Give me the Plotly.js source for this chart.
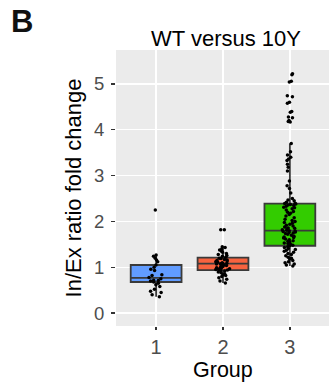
<!DOCTYPE html>
<html><head><meta charset="utf-8">
<script src="https://cdn.plot.ly/plotly-3.0.1.min.js"></script>
<style>html,body{margin:0;padding:0;background:#fff}#chart{width:329px;height:388px}</style>
</head><body><div id="chart"></div>
<script>
const groups = [1, 2, 3];
const tickLabels = ["1", "2", "3"];
const boxColors = ["#619CFF", "#F8633F", "#33CC00"];
const q1 = [0.68, 0.94, 1.47];
const median = [0.77, 1.08, 1.80];
const q3 = [1.05, 1.21, 2.39];
const lowerWhisker = [0.36, 0.66, 1.03];
const upperWhisker = [1.28, 1.45, 3.70];

const group1 = [2.25, 1.27, 1.24, 1.20, 1.16, 1.12, 1.05, 1.00, 0.96, 0.93, 0.84, 0.82, 0.78, 0.75, 0.72, 0.71, 0.70, 0.68, 0.65, 0.62, 0.58, 0.52, 0.48, 0.45, 0.40, 0.36];
const group2 = [1.82, 1.82, 1.45, 1.43, 1.40, 1.38, 1.35, 1.33, 1.30, 1.28, 1.26, 1.24, 1.22, 1.20, 1.19, 1.17, 1.16, 1.15, 1.14, 1.12, 1.11, 1.10, 1.09, 1.08, 1.08, 1.07, 1.06, 1.05, 1.04, 1.02, 1.00, 0.99, 0.98, 0.97, 0.96, 0.95, 0.94, 0.93, 0.92, 0.90, 0.88, 0.86, 0.84, 0.82, 0.80, 0.77, 0.74, 0.70, 0.66];
const group3 = [5.22, 5.20, 5.06, 5.04, 4.74, 4.72, 4.60, 4.58, 4.40, 4.38, 4.28, 4.26, 4.20, 4.18, 4.17,
  3.70, 3.52, 3.45, 3.40, 3.36, 3.33, 3.25, 3.18, 3.10, 2.88, 2.78, 2.72, 2.62, 2.50, 2.47, 2.45, 2.42, 2.40, 2.39, 2.38, 2.37, 2.36, 2.35, 2.33, 2.31, 2.30, 2.28, 2.25, 2.22, 2.20, 2.18, 2.15, 2.12, 2.08, 2.05, 2.02, 2.00, 1.98, 1.96, 1.94, 1.92, 1.90, 1.88, 1.86, 1.85, 1.84, 1.82, 1.81, 1.80, 1.79, 1.78, 1.77, 1.76, 1.75, 1.74, 1.72, 1.70, 1.68, 1.66, 1.65, 1.64, 1.62, 1.60, 1.58, 1.57, 1.55, 1.53, 1.52, 1.50, 1.48, 1.47, 1.45, 1.43, 1.41, 1.39, 1.37, 1.35, 1.33, 1.30, 1.28, 1.25, 1.22, 1.20, 1.18, 1.15, 1.12, 1.10, 1.07, 1.05, 1.03];
const pointSets = [group1, group2, group3];

const traces = [];
groups.forEach((g, i) => {
  traces.push({
    type: 'box', x: [g], q1: [q1[i]], median: [median[i]], q3: [q3[i]],
    lowerfence: [lowerWhisker[i]], upperfence: [upperWhisker[i]],
    width: 0.76, whiskerwidth: 0, fillcolor: boxColors[i],
    line: {color: '#3a3a3a', width: 1.8}, boxpoints: false,
    showlegend: false, hoverinfo: 'skip'
  });
});
groups.forEach((g, i) => {
  traces.push({
    type: 'box', x: pointSets[i].map(() => g), y: pointSets[i],
    width: 0.76, boxpoints: 'all', jitter: 0.32, pointpos: 0,
    fillcolor: 'rgba(0,0,0,0)', line: {color: 'rgba(0,0,0,0)', width: 0},
    marker: {color: '#000000', size: 3.5}, showlegend: false
  });
});

const layout = {
  width: 329, height: 388,
  margin: {l: 116, r: 0, t: 50, b: 62},
  paper_bgcolor: '#ffffff', plot_bgcolor: '#EBEBEB',
  font: {family: 'Liberation Sans, Arial, sans-serif', color: '#000'},
  boxmode: 'overlay',
  title: {text: 'WT versus 10Y', x: 226/329, xanchor: 'center', y: 1 - 38.5/388, yanchor: 'middle', font: {size: 22, color: '#000'}},
  xaxis: {
    range: [0.4, 3.585], tickvals: groups, ticktext: tickLabels,
    showgrid: true, gridcolor: '#ffffff', gridwidth: 1.4, zeroline: false,
    ticks: 'outside', ticklen: 3, tickcolor: '#333333', tickwidth: 1.4,
    tickfont: {size: 20, color: '#4D4D4D'}
  },
  yaxis: {
    range: [-0.28, 5.74], tickvals: [0, 1, 2, 3, 4, 5],
    showgrid: true, gridcolor: '#ffffff', gridwidth: 1.4, zeroline: false,
    ticks: 'outside', ticklen: 4, tickcolor: '#333333', tickwidth: 1.4,
    ticklabelstandoff: 3,
    tickfont: {size: 18.5, color: '#4D4D4D'},
    title: {text: 'In/Ex ratio fold change', font: {size: 22, color: '#000'}, standoff: 6}
  },
  annotations: [
    {text: '<b>B</b>', xref: 'paper', yref: 'paper', x: -107/213, y: 1 + 28.5/276, xanchor: 'left', yanchor: 'middle', showarrow: false, font: {size: 31, color: '#111'}},
    {text: 'Group', xref: 'paper', yref: 'paper', x: 0.5, y: -44/276, xanchor: 'center', yanchor: 'middle', showarrow: false, font: {size: 21.5, color: '#000'}}
  ]
};
Plotly.newPlot('chart', traces, layout, {staticPlot: true, displayModeBar: false});
</script></body></html>
